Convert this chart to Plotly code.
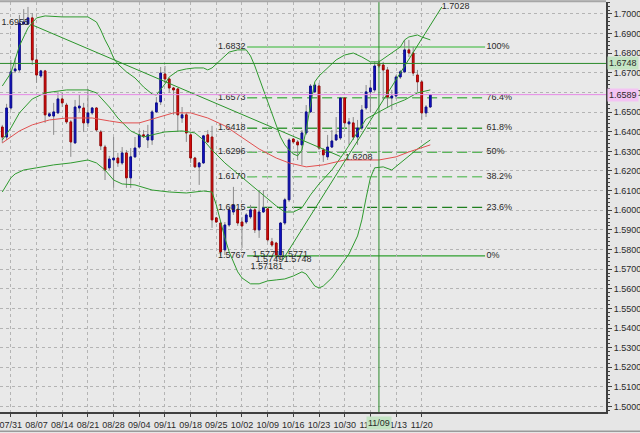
import plotly.graph_objects as go

# weekly axis labels, one every 6 candles (Sun..Fri sessions)
week_labels = ["07/31", "08/07", "08/14", "08/21", "08/28", "09/04", "09/11", "09/18",
               "09/25", "10/02", "10/09", "10/16", "10/23", "10/30", "11/06", "11/13", "11/20"]
week_first_candle = 2
candles_per_week = 6

opens = [1.6424, 1.6373, 1.6521, 1.6710, 1.6715, 1.6949, 1.6949, 1.6980, 1.6766, 1.6684,
         1.6710, 1.6480, 1.6480, 1.6496, 1.6567, 1.6536, 1.6450, 1.6343, 1.6521, 1.6521,
         1.6445, 1.6496, 1.6521, 1.6399, 1.6322, 1.6216, 1.6256, 1.6266, 1.6241, 1.6292,
         1.6165, 1.6272, 1.6322, 1.6384, 1.6358, 1.6358, 1.6501, 1.6552, 1.6694, 1.6669,
         1.6623, 1.6618, 1.6470, 1.6486, 1.6384, 1.6266, 1.6221, 1.6241, 1.6384, 1.6373,
         1.5961, 1.5935, 1.5798, 1.5925, 1.5991, 1.6002, 1.5940, 1.5940, 1.5966, 1.6002,
         1.5900, 1.5991, 1.6007, 1.5839, 1.5833, 1.5772, 1.5935, 1.6053, 1.6363, 1.6348,
         1.6333, 1.6394, 1.6501, 1.6603, 1.6633, 1.6307, 1.6272, 1.6322, 1.6358, 1.6368,
         1.6572, 1.6440, 1.6445, 1.6373, 1.6419, 1.6521, 1.6603, 1.6613, 1.6750, 1.6740,
         1.6715, 1.6572, 1.6582, 1.6679, 1.6705, 1.6817, 1.6801, 1.6689, 1.6654, 1.6496,
         1.6526]
highs = [1.6435, 1.6542, 1.6766, 1.6776, 1.6995, 1.7025, 1.7036, 1.7005, 1.6827, 1.6715,
         1.6715, 1.6496, 1.6547, 1.6603, 1.6598, 1.6547, 1.6460, 1.6562, 1.6587, 1.6547,
         1.6618, 1.6526, 1.6526, 1.6409, 1.6333, 1.6277, 1.6373, 1.6292, 1.6322, 1.6307,
         1.6317, 1.6373, 1.6409, 1.6409, 1.6435, 1.6511, 1.6577, 1.6730, 1.6735, 1.6674,
         1.6628, 1.6623, 1.6526, 1.6496, 1.6394, 1.6272, 1.6246, 1.6384, 1.6409, 1.6430,
         1.5966, 1.5940, 1.5940, 1.6012, 1.6119, 1.6012, 1.5966, 1.5986, 1.6027, 1.6012,
         1.6103, 1.6103, 1.6012, 1.5859, 1.5839, 1.5940, 1.6063, 1.6368, 1.6368, 1.6358,
         1.6409, 1.6536, 1.6643, 1.6649, 1.6649, 1.6317, 1.6384, 1.6409, 1.6475, 1.6577,
         1.6577, 1.6470, 1.6475, 1.6460, 1.6536, 1.6638, 1.6664, 1.6756, 1.6766, 1.6756,
         1.6730, 1.6613, 1.6689, 1.6715, 1.6868, 1.6868, 1.6832, 1.6715, 1.6664, 1.6536,
         1.6592]
lows = [1.6343, 1.6358, 1.6511, 1.6699, 1.6705, 1.6944, 1.6944, 1.6740, 1.6649, 1.6674,
        1.6445, 1.6475, 1.6384, 1.6491, 1.6526, 1.6440, 1.6272, 1.6338, 1.6501, 1.6399,
        1.6424, 1.6486, 1.6399, 1.6307, 1.6154, 1.6205, 1.6114, 1.6221, 1.6231, 1.6114,
        1.6114, 1.6266, 1.6317, 1.6368, 1.6317, 1.6333, 1.6496, 1.6536, 1.6649, 1.6598,
        1.6486, 1.6399, 1.6445, 1.6348, 1.6241, 1.6216, 1.6129, 1.6236, 1.6343, 1.5910,
        1.5935, 1.5767, 1.5772, 1.5915, 1.5976, 1.5920, 1.5808, 1.5930, 1.5956, 1.5884,
        1.5859, 1.5986, 1.5839, 1.5813, 1.5749, 1.5748, 1.5925, 1.6042, 1.6338, 1.6256,
        1.6231, 1.6384, 1.6496, 1.6598, 1.6307, 1.6246, 1.6256, 1.6317, 1.6353, 1.6358,
        1.6424, 1.6333, 1.6358, 1.6333, 1.6409, 1.6511, 1.6501, 1.6603, 1.6725, 1.6562,
        1.6521, 1.6511, 1.6567, 1.6669, 1.6699, 1.6781, 1.6684, 1.6603, 1.6460, 1.6475,
        1.6521]
closes = [1.6373, 1.6521, 1.6705, 1.6720, 1.6954, 1.6959, 1.6980, 1.6766, 1.6689, 1.6710,
          1.6486, 1.6491, 1.6501, 1.6567, 1.6547, 1.6450, 1.6348, 1.6526, 1.6531, 1.6445,
          1.6496, 1.6521, 1.6409, 1.6328, 1.6205, 1.6261, 1.6266, 1.6241, 1.6292, 1.6165,
          1.6272, 1.6317, 1.6384, 1.6379, 1.6384, 1.6501, 1.6547, 1.6699, 1.6669, 1.6623,
          1.6613, 1.6486, 1.6486, 1.6394, 1.6266, 1.6221, 1.6241, 1.6379, 1.6348, 1.5951,
          1.5940, 1.5788, 1.5925, 1.6002, 1.6027, 1.5935, 1.5920, 1.5976, 1.6002, 1.5900,
          1.5991, 1.6012, 1.5849, 1.5823, 1.5772, 1.5935, 1.6053, 1.6358, 1.6348, 1.6333,
          1.6394, 1.6501, 1.6633, 1.6638, 1.6317, 1.6282, 1.6322, 1.6353, 1.6384, 1.6572,
          1.6445, 1.6450, 1.6373, 1.6419, 1.6511, 1.6603, 1.6623, 1.6735, 1.6735, 1.6715,
          1.6577, 1.6582, 1.6679, 1.6705, 1.6817, 1.6801, 1.6699, 1.6654, 1.6496, 1.6526,
          1.6589]

# indicator lines (candle index -> price)
band_up_i = [0, 2, 4, 6, 8, 10, 14, 18, 20, 22, 23, 24, 25, 26, 27, 29, 31, 33, 35, 36,
             37, 38, 39, 41, 43, 45, 47, 48, 49, 50, 51, 52, 53, 55, 57, 58, 59, 60, 61, 62,
             63, 64, 65, 66, 67, 68, 69, 70, 71, 72, 73, 74, 76, 78, 80, 82, 84, 86, 88, 90,
             92, 93, 94, 95, 97, 98, 100]
band_up = [1.6633, 1.6699, 1.6837, 1.6929, 1.6980, 1.6990, 1.6985, 1.6985, 1.6985, 1.6959,
           1.6918, 1.6868, 1.6827, 1.6776, 1.6745, 1.6705, 1.6674, 1.6628, 1.6592, 1.6587,
           1.6613, 1.6643, 1.6679, 1.6710, 1.6720, 1.6725, 1.6725, 1.6715, 1.6725, 1.6745,
           1.6766, 1.6786, 1.6806, 1.6817, 1.6817, 1.6786, 1.6735, 1.6674, 1.6613, 1.6547,
           1.6486, 1.6430, 1.6373, 1.6333, 1.6307, 1.6287, 1.6277, 1.6307, 1.6409, 1.6536,
           1.6654, 1.6684, 1.6725, 1.6766, 1.6791, 1.6801, 1.6781, 1.6756, 1.6756, 1.6786,
           1.6817, 1.6832, 1.6868, 1.6883, 1.6893, 1.6883, 1.6868]

band_lo_i = [0, 2, 3, 5, 8, 12, 16, 20, 22, 24, 26, 28, 31, 35, 39, 43, 47, 49, 50, 51,
             52, 53, 54, 55, 56, 58, 60, 62, 64, 66, 68, 70, 71, 72, 73, 74, 75, 77, 79, 81,
             83, 84, 85, 86, 87, 89, 91, 93, 95, 97, 99, 100]
band_lo = [1.6093, 1.6165, 1.6185, 1.6205, 1.6216, 1.6231, 1.6241, 1.6256, 1.6241, 1.6205,
           1.6154, 1.6134, 1.6129, 1.6103, 1.6093, 1.6088, 1.6098, 1.6093, 1.6027, 1.5940,
           1.5859, 1.5788, 1.5732, 1.5686, 1.5655, 1.5625, 1.5625, 1.5640, 1.5645, 1.5650,
           1.5665, 1.5686, 1.5675, 1.5645, 1.5614, 1.5604, 1.5614, 1.5655, 1.5716, 1.5777,
           1.5869, 1.5951, 1.6063, 1.6165, 1.6216, 1.6221, 1.6205, 1.6241, 1.6272, 1.6312,
           1.6343, 1.6358]

ma_slow_i = [0, 2, 4, 7, 11, 15, 21, 25, 28, 32, 36, 40, 44, 48, 52, 56, 60, 64, 67, 71,
             75, 80, 88, 92, 95, 100]
ma_slow = [1.6343, 1.6373, 1.6404, 1.6435, 1.6460, 1.6470, 1.6470, 1.6455, 1.6445, 1.6445,
           1.6470, 1.6496, 1.6496, 1.6470, 1.6430, 1.6373, 1.6312, 1.6266, 1.6241, 1.6221,
           1.6231, 1.6256, 1.6256, 1.6272, 1.6297, 1.6333]

ma_fast_i = [0, 2, 4, 7, 10, 15, 20, 22, 25, 27, 30, 33, 35, 38, 42, 45, 47, 49, 52, 55,
             58, 61, 64, 66, 68, 70, 72, 74, 77, 80, 83, 85, 88, 91, 94, 97, 100]
ma_fast = [1.6358, 1.6419, 1.6496, 1.6567, 1.6598, 1.6613, 1.6613, 1.6598, 1.6526, 1.6470,
           1.6404, 1.6373, 1.6384, 1.6399, 1.6404, 1.6394, 1.6358, 1.6307, 1.6241, 1.6185,
           1.6134, 1.6073, 1.6022, 1.5991, 1.5991, 1.6012, 1.6078, 1.6134, 1.6205, 1.6297,
           1.6394, 1.6465, 1.6501, 1.6536, 1.6562, 1.6598, 1.6613]

# trendlines
trend_down_i = [7, 79]
trend_down = [1.6944, 1.6274]
trend_up_i = [65.5, 102.7]
trend_up = [1.5747, 1.7036]
trend_up_label = "1.7028"

# fibonacci retracement
fib_levels = [1.6832, 1.6573, 1.6418, 1.6296, 1.6170, 1.6015, 1.5767]
fib_names = ["100%", "76.4%", "61.8%", "50%", "38.2%", "23.6%", "0%"]
fib_prices = ["1.6832", "1.6573", "1.6418", "1.6296", "1.6170", "1.6015", "1.5767"]

# swing price labels on the chart
swing_text = ["1.6955", "1.6208", "1.5771", "1.5749", "1.57181", "1.5771", "1.5748"]
swing_i = [3.0, 83.3, 61.7, 62.4, 61.8, 68.2, 69.0]
swing_price = [1.6954, 1.6266, 1.5772, 1.5747, 1.5711, 1.5772, 1.5747]

crosshair_i = 88
crosshair_date = "11/09"
crosshair_price = 1.6748
last_price = 1.6589

# ---- layout constants
FIB_START, FIB_END = 57.2, 112.8
FIB_STYLE = [("#8ccf8c", 2, "solid"), ("#5cb45c", 1.5, "10px,5px"), ("#3d9a3d", 1.5, "10px,5px"),
             ("#5cb45c", 1.5, "10px,5px"), ("#74c474", 1.5, "10px,5px"), ("#1f7f1f", 1.2, "10px,5px"),
             ("#2f9f2f", 1.2, "solid")]
GREEN = "#2f9a2f"
CROSS = "#2a8a2a"
FONT = dict(family="Liberation Sans, Arial, sans-serif", size=9, color="#2a2a2a")

x = list(range(len(opens)))
fig = go.Figure()

# fib labels go first so candles sit on top of them
fig.add_trace(go.Scatter(x=[FIB_START - 0.4] * len(fib_levels), y=fib_levels, text=fib_prices,
                         mode="text", textposition="middle left", textfont=FONT,
                         hoverinfo="skip", showlegend=False))
fig.add_trace(go.Scatter(x=[FIB_END + 0.3] * len(fib_levels), y=fib_levels, text=fib_names,
                         mode="text", textposition="middle right", textfont=FONT,
                         hoverinfo="skip", showlegend=False))
fig.add_trace(go.Scatter(x=swing_i, y=swing_price, text=swing_text, mode="text",
                         textposition="middle center", textfont=FONT,
                         hoverinfo="skip", showlegend=False))

for xs, ys, col in [(band_up_i, band_up, GREEN), (band_lo_i, band_lo, GREEN),
                    (ma_fast_i, ma_fast, GREEN), (ma_slow_i, ma_slow, "#e25050")]:
    fig.add_trace(go.Scatter(x=xs, y=ys, mode="lines", line=dict(color=col, width=1),
                             hoverinfo="skip", showlegend=False))

fig.add_trace(go.Scatter(x=trend_down_i, y=trend_down, mode="lines",
                         line=dict(color="#2a952a", width=1), showlegend=False))
fig.add_trace(go.Scatter(x=trend_up_i, y=trend_up, mode="lines+text",
                         text=["", trend_up_label], textposition="middle right", textfont=FONT,
                         line=dict(color="#2a952a", width=1), showlegend=False))

# wicks (grey) then bodies on top
fig.add_trace(go.Candlestick(
    x=x, open=opens, high=highs, low=lows, close=closes,
    increasing=dict(line=dict(color="#8c8c8c", width=1), fillcolor="#8c8c8c"),
    decreasing=dict(line=dict(color="#8c8c8c", width=1), fillcolor="#8c8c8c"),
    showlegend=False, hoverinfo="skip"))
body_hi = [max(o, c) for o, c in zip(opens, closes)]
body_lo = [min(o, c) for o, c in zip(opens, closes)]
fig.add_trace(go.Candlestick(
    x=x, open=opens, high=body_hi, low=body_lo, close=closes,
    increasing=dict(line=dict(color="#0c0c90", width=1), fillcolor="#1414d2"),
    decreasing=dict(line=dict(color="#a00000", width=1), fillcolor="#e81212"),
    showlegend=False))

shapes = []
for lvl, (col, w, dash) in zip(fib_levels, FIB_STYLE):
    shapes.append(dict(type="line", xref="x", yref="y", x0=FIB_START, x1=FIB_END, y0=lvl, y1=lvl,
                       line=dict(color=col, width=w, dash=dash), layer="below"))
shapes += [
    dict(type="line", xref="paper", yref="y", x0=0, x1=1, y0=crosshair_price, y1=crosshair_price,
         line=dict(color=CROSS, width=1)),
    dict(type="line", xref="paper", yref="y", x0=0, x1=1, y0=last_price, y1=last_price,
         line=dict(color="#e58ae5", width=1)),
    dict(type="line", xref="x", yref="paper", x0=crosshair_i, x1=crosshair_i, y0=0, y1=1,
         line=dict(color=CROSS, width=1)),
    dict(type="line", xref="paper", yref="paper", x0=0, x1=1, y0=1.002, y1=1.002,
         line=dict(color="#a6a6a6", width=2)),
    dict(type="line", xref="paper", yref="paper", x0=0, x1=1.06, y0=-0.047, y1=-0.047,
         line=dict(color="#9a9a9a", width=1.5)),
]

annotations = [
    dict(xref="paper", yref="y", x=1, y=crosshair_price, xanchor="left", xshift=1,
         text=f"{crosshair_price:.4f}", showarrow=False, font=FONT, bgcolor="#c4e4c4", borderpad=1),
    dict(xref="paper", yref="y", x=1, y=last_price, xanchor="left", xshift=1,
         text=f"{last_price:.4f}", showarrow=False, font=FONT, bgcolor="#f3c3f3", borderpad=1),
    dict(xref="x", yref="paper", x=crosshair_i, y=0, yanchor="top", yshift=-4,
         text=crosshair_date, showarrow=False, font=FONT, bgcolor="#c4e4c4", borderpad=1),
]

fig.update_layout(
    width=640, height=433,
    margin=dict(l=0, r=34, t=2, b=21),
    paper_bgcolor="#e6e6e6", plot_bgcolor="#e9e9e9",
    font=FONT, showlegend=False, boxgap=0.45,
    shapes=shapes, annotations=annotations,
    xaxis=dict(range=[-0.54, 141.05], rangeslider=dict(visible=False),
               tickvals=[week_first_candle + candles_per_week * k for k in range(len(week_labels))],
               ticktext=week_labels, ticks="outside", ticklen=3, tickcolor="#404040",
               showline=True, linecolor="#404040", linewidth=2,
               showgrid=True, gridcolor="#b4b4b4", griddash="3px,3px", gridwidth=1,
               zeroline=False, ticklabeloverflow="allow", tickfont=FONT),
    yaxis=dict(side="right", range=[1.4972, 1.7061], dtick=0.01, tick0=1.5, tickformat=".4f",
               ticks="outside", ticklen=4, tickcolor="#404040",
               minor=dict(dtick=0.002, ticks="outside", ticklen=2, tickcolor="#404040"),
               showline=True, linecolor="#404040", linewidth=2,
               showgrid=True, gridcolor="#b4b4b4", griddash="3px,3px", gridwidth=1,
               zeroline=False, tickfont=FONT, ticklabeloverflow="allow"),
)

fig.write_html("out.html", config={"displayModeBar": False},
               post_script="document.body.style.margin='0';document.body.style.background='#e6e6e6';")
